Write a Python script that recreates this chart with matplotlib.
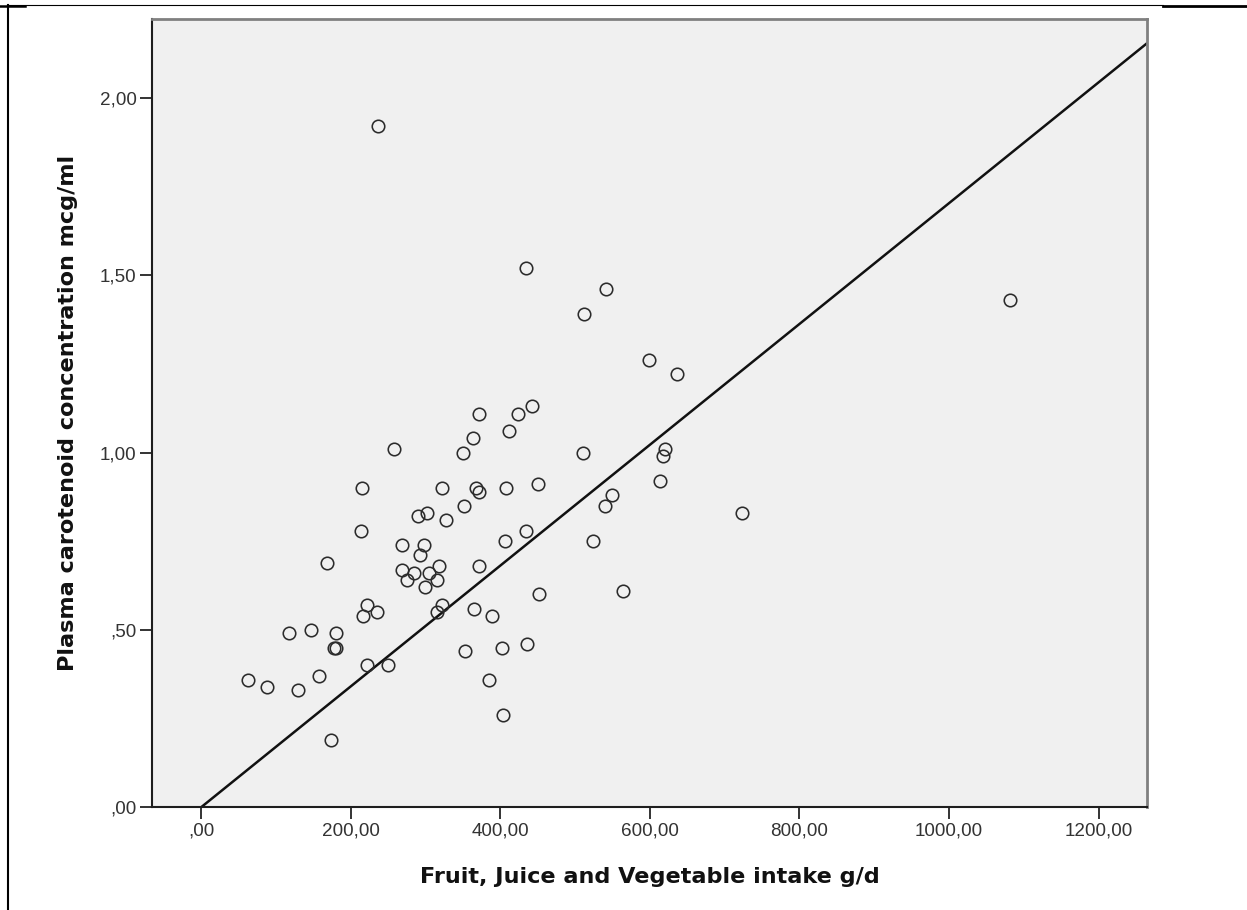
import matplotlib
matplotlib.use("Agg")
import matplotlib.pyplot as plt
from matplotlib.lines import Line2D
import numpy as np

# ---- data ----
intake_g_per_day = [
    236, 435, 541, 512, 1081, 599, 636, 372, 424, 442,
    411, 364, 258, 350, 510, 620, 617, 613, 450, 215,
    322, 367, 371, 407, 550, 540, 351, 723, 302, 290,
    327, 214, 434, 268, 298, 406, 524, 293, 169, 269,
    318, 372, 305, 284, 275, 316, 299, 564, 452, 222,
    322, 316, 235, 216, 365, 389, 118, 147, 181, 178,
    181, 436, 402, 353, 222, 250, 63, 88, 157, 130,
    385, 403, 174,
]
carotenoid_mcg_ml = [
    1.92, 1.52, 1.46, 1.39, 1.43, 1.26, 1.22, 1.11, 1.11, 1.13,
    1.06, 1.04, 1.01, 1.00, 1.00, 1.01, 0.99, 0.92, 0.91, 0.90,
    0.90, 0.90, 0.89, 0.90, 0.88, 0.85, 0.85, 0.83, 0.83, 0.82,
    0.81, 0.78, 0.78, 0.74, 0.74, 0.75, 0.75, 0.71, 0.69, 0.67,
    0.68, 0.68, 0.66, 0.66, 0.64, 0.64, 0.62, 0.61, 0.60, 0.57,
    0.57, 0.55, 0.55, 0.54, 0.56, 0.54, 0.49, 0.50, 0.49, 0.45,
    0.45, 0.46, 0.45, 0.44, 0.40, 0.40, 0.36, 0.34, 0.37, 0.33,
    0.36, 0.26, 0.19,
]
fit_intercept = 0.0
fit_slope = 0.001703

x_ticks = [0, 200, 400, 600, 800, 1000, 1200]
x_tick_labels = [",00", "200,00", "400,00", "600,00", "800,00", "1000,00", "1200,00"]
y_ticks = [0.0, 0.5, 1.0, 1.5, 2.0]
y_tick_labels = [",00", ",50", "1,00", "1,50", "2,00"]
x_title = "Fruit, Juice and Vegetable intake g/d"
y_title = "Plasma carotenoid concentration mcg/ml"

W, H = 1247, 910
fig = plt.figure(figsize=(W / 100, H / 100), dpi=100, facecolor="white")

# axes placement in pixels
L, R, T, B = 151.7, 1147.3, 19.0, 807.3
ax = fig.add_axes([L / W, (H - B) / H, (R - L) / W, (B - T) / H])
ax.set_facecolor("#f0f0f0")

xlim = (-66, 1265)
ylim = (0, 2.222)
ax.set_xlim(*xlim)
ax.set_ylim(*ylim)

# scatter
ax.plot(intake_g_per_day, carotenoid_mcg_ml, linestyle="none", marker="o",
        markersize=9.0, markerfacecolor="none", markeredgecolor="#2b2b2b",
        markeredgewidth=1.15, zorder=3)

# fit line
xf = np.array(xlim, dtype=float)
ax.plot(xf, fit_intercept + fit_slope * xf, color="#111111", linewidth=1.8,
        zorder=2, solid_capstyle="butt")

# ticks
tick_font = dict(family="Liberation Sans", size=13.6)
ax.set_xticks(x_ticks)
ax.set_xticklabels(x_tick_labels, fontdict=tick_font, color="#333333")
ax.set_yticks(y_ticks)
ax.set_yticklabels(y_tick_labels, fontdict=tick_font, color="#333333")
ax.tick_params(axis="both", direction="out", length=8.6, width=1.4,
               color="#333333")
ax.tick_params(axis="x", pad=2.5)
ax.tick_params(axis="y", pad=2.2)

# spines
for s in ("left", "bottom"):
    ax.spines[s].set_color("#1e1e1e")
    ax.spines[s].set_linewidth(1.5)
for s in ("top", "right"):
    ax.spines[s].set_color("#808080")
    ax.spines[s].set_linewidth(2.0)

# axis titles
title_font = dict(family="DejaVu Sans", weight="bold", size=16.1)
ax.set_xlabel(x_title, fontdict=title_font, color="#111111")
ax.xaxis.label.set_verticalalignment("baseline")
ax.xaxis.set_label_coords(0.5, ((H - 883) - (H - B)) / (B - T))
ax.set_ylabel(y_title, fontdict=title_font, color="#111111")
ax.yaxis.label.set_verticalalignment("center")
ax.yaxis.label.set_horizontalalignment("center")
ax.yaxis.set_label_coords((68 - L) / (R - L), 0.5)

# document table borders around the figure
def hline(x0, x1, y, lw):
    fig.add_artist(Line2D([x0 / W, x1 / W], [(H - y) / H, (H - y) / H],
                          transform=fig.transFigure, color="black", linewidth=lw))

def vline(x, y0, y1, lw):
    fig.add_artist(Line2D([x / W, x / W], [(H - y0) / H, (H - y1) / H],
                          transform=fig.transFigure, color="black", linewidth=lw))

hline(0, 25, 5.8, 1.8)
hline(7, 1163, 5.3, 0.8)
hline(1163, 1247, 6.0, 2.0)
vline(7.5, 5, H, 1.5)

fig.savefig("out.png", dpi=100, facecolor="white")
